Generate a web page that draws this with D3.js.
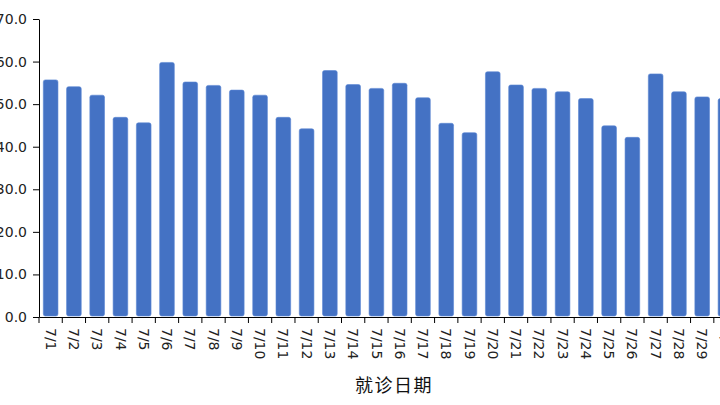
<!DOCTYPE html>
<html>
<head>
<meta charset="utf-8">
<script src="https://cdn.jsdelivr.net/npm/d3@7/dist/d3.min.js"></script>
<style>
  body { margin: 0; background: #fff; }
  svg { display: block; }
</style>
</head>
<body>
<div id="chart"></div>
<script>
var width = 720;
var height = 405;

var dates = ["7/1", "7/2", "7/3", "7/4", "7/5", "7/6", "7/7", "7/8", "7/9", "7/10",
    "7/11", "7/12", "7/13", "7/14", "7/15", "7/16", "7/17", "7/18", "7/19", "7/20",
    "7/21", "7/22", "7/23", "7/24", "7/25", "7/26", "7/27", "7/28", "7/29", "7/30"];
var values = [55.7, 54.1, 52.1, 46.9, 45.6, 59.8, 55.2, 54.4, 53.3, 52.1,
    46.9, 44.2, 57.9, 54.6, 53.7, 54.9, 51.5, 45.5, 43.3, 57.6,
    54.5, 53.7, 52.9, 51.3, 44.9, 42.2, 57.1, 52.9, 51.7, 51.3];
var yTicks = [0, 10, 20, 30, 40, 50, 60, 70];
var xTitle = "就诊日期";

var plotLeft = 39;
var plotTop = 19;
var plotBottom = 317;
var step = 23.27;
var pad = 0.37;

var svg = d3.select("#chart").append("svg")
    .attr("width", width)
    .attr("height", height);

var data = dates.map(function (d, i) {
    return {date: d, value: values[i]};
});

var xScale = d3.scaleBand()
    .domain(dates)
    .range([plotLeft, plotLeft + step * dates.length])
    .paddingInner(pad)
    .paddingOuter(pad / 2);

var yScale = d3.scaleLinear()
    .domain([0, 70])
    .range([plotBottom, plotTop]);

// bars
svg.append("g")
    .selectAll("rect")
    .data(data)
    .enter().append("rect")
    .attr("x", function (d) { return xScale(d.date); })
    .attr("y", function (d) { return yScale(d.value); })
    .attr("width", xScale.bandwidth())
    .attr("height", function (d) { return plotBottom - 1 - yScale(d.value); })
    .attr("rx", 2)
    .style("fill", "#4472C4")
    .style("stroke", "#5b86d4")
    .style("stroke-width", 0.6);

// y axis
var yAxis = d3.axisLeft(yScale)
    .tickValues(yTicks)
    .tickFormat(d3.format(".1f"))
    .tickSize(6)
    .tickSizeOuter(0)
    .tickPadding(6);
var yg = svg.append("g")
    .attr("transform", "translate(" + plotLeft + ",0)")
    .call(yAxis);
yg.selectAll("text")
    .style("font-family", "DejaVu Sans, Verdana, sans-serif")
    .style("font-size", "14px")
    .style("fill", "#222");

// x axis: labels at band centres, ticks at band edges
var xAxis = d3.axisBottom(xScale)
    .tickSize(0)
    .tickSizeOuter(0);
var xg = svg.append("g")
    .attr("transform", "translate(0," + plotBottom + ")")
    .call(xAxis);
xg.selectAll("text")
    .style("font-family", "DejaVu Sans, Verdana, sans-serif")
    .style("font-size", "14px")
    .style("fill", "#222")
    .style("text-anchor", "start")
    .attr("dy", "0.35em")
    .attr("x", 11)
    .attr("y", 0)
    .attr("transform", "rotate(90)");

var edges = dates.map(function (d) {
    return xScale(d) - xScale.step() * pad / 2;
});
edges.push(plotLeft + step * dates.length);
xg.selectAll(".edge")
    .data(edges)
    .enter().append("line")
    .attr("class", "edge")
    .attr("x1", function (d) { return d; })
    .attr("x2", function (d) { return d; })
    .attr("y1", 0)
    .attr("y2", 6)
    .attr("stroke", "#000");

svg.selectAll(".domain").attr("stroke", "#000");

// axis title
svg.append("text")
    .attr("x", 394)
    .attr("y", 392)
    .attr("text-anchor", "middle")
    .style("font-family", "Noto Sans CJK SC, sans-serif")
    .style("font-size", "18px")
    .style("letter-spacing", "1.5px")
    .style("fill", "#111")
    .text(xTitle);
</script>
</body>
</html>
